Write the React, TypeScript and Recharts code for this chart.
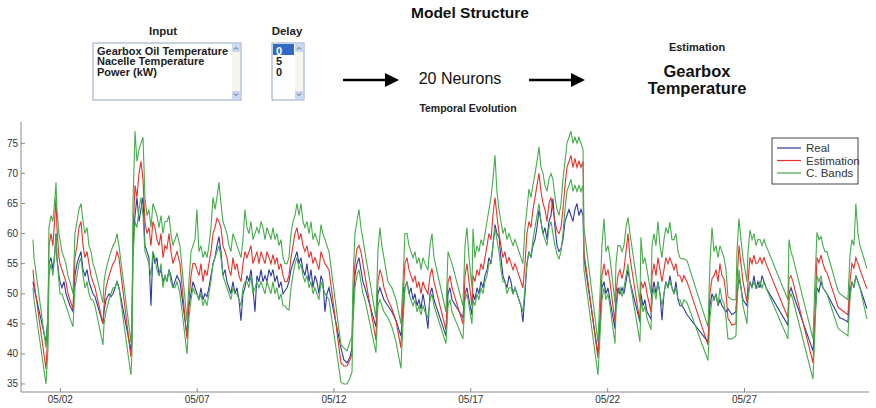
import { Line, LineChart, XAxis, YAxis } from 'recharts'

// hours since 05/01 00:00, one row per daytime stretch (the straight drops are overnight gaps)
const hours = [
  0, 0.9, 11.4,
  13.2, 14.0, 15.8, 17.5, 19.3, 20.2, 21.0, 22.8, 23.7, 25.4, 27.2, 28.9, 30.7, 32.4, 35.1,
  36.8, 38.6, 40.3, 42.1, 43.9, 45.6, 47.4, 49.1, 50.9, 52.6, 54.4, 61.4,
  62.3, 64.0, 66.7, 68.4, 70.2, 71.9, 73.7, 75.4, 85.9,
  86.8, 87.7, 89.5, 91.2, 93.0, 94.7, 96.5, 98.2, 100.0, 101.7, 103.5, 105.2, 107.0, 108.7, 110.5, 112.3, 114.0, 115.8, 117.5, 119.3, 121.0, 122.8, 124.5, 126.3, 128.9, 135.1,
  136.8, 138.6, 140.3, 142.1, 143.8, 145.6, 147.3, 149.1, 150.8, 152.6, 154.3, 156.1, 157.9, 159.6, 161.4, 163.1, 164.9, 166.6, 168.4, 170.1, 171.9, 173.6, 175.4, 177.2, 178.9, 180.7, 182.4, 184.2, 185.9, 187.7, 189.4, 191.2, 192.9, 194.7, 196.4, 198.2, 200.0, 201.7, 203.5, 205.2, 207.0, 208.7, 210.5, 212.2, 214.0, 215.7, 217.5, 219.3, 221.0, 222.8, 224.5,
  226.3, 228.0, 229.8, 231.5, 233.3, 235.0, 236.8, 238.5, 240.3, 242.1, 243.8, 245.6, 247.3, 249.1, 250.8, 252.6, 254.3, 256.1, 257.8, 259.6, 270.1, 272.7, 275.4, 278.0, 279.8,
  280.6, 282.4, 284.1, 285.9, 287.6, 289.4, 291.1, 300.8,
  302.5, 304.3, 306.0, 307.8, 311.3, 314.8, 318.4, 322.7,
  324.5, 326.2, 328.0, 329.8, 331.5, 333.3, 335.0, 336.8, 338.5, 340.3, 342.0, 343.8, 346.4, 348.2, 349.9, 351.7, 362.2,
  364.0, 365.7, 367.5, 377.1,
  378.9, 380.6, 382.4, 385.0,
  385.9, 387.6, 389.4, 391.1, 392.9, 394.7, 396.4, 398.2, 399.9, 401.7, 403.4, 405.2, 406.9, 408.7, 410.4, 412.2, 413.9, 415.7, 417.5, 419.2, 421.0, 422.7, 424.5, 426.2, 428.0, 429.7, 431.5,
  433.2, 435.0, 436.7, 438.5, 440.3, 442.0, 443.8, 445.5, 447.3, 449.0, 450.8, 452.5, 454.3, 456.0, 457.8, 459.6, 461.3, 463.1, 464.8, 466.6, 468.3, 470.1, 471.8, 473.6, 475.3, 477.1, 478.8, 480.6, 482.4, 483.2, 495.5,
  497.3, 499.0, 500.8, 502.5, 504.3, 506.0, 510.4,
  511.3, 513.0, 514.8, 516.6, 518.3, 520.1, 521.8, 523.6, 532.3,
  533.2, 535.0, 536.7, 538.5, 542.0,
  542.9, 544.6, 546.4, 548.1, 549.9, 551.6, 553.4, 555.1, 556.9, 558.6, 560.4, 562.2, 563.9, 565.7, 567.4, 569.2, 570.9, 573.6, 592.0,
  593.7, 595.5, 597.3, 599.0, 600.8, 602.5, 604.3, 606.0, 607.8, 609.5, 613.0, 616.5,
  617.4, 619.2, 620.9, 622.7, 626.2,
  627.1, 628.8, 630.6, 632.3, 634.1, 635.8, 637.6, 639.4, 641.1, 642.9, 662.1,
  663.0, 664.8, 666.5, 684.1,
  685.8, 687.6, 689.3, 691.1, 692.8, 694.6, 696.3, 706.0,
  707.7, 711.2, 714.7,
  716.5, 718.2, 720.0, 721.7, 723.5, 725.3, 731.4,
]

const real = [
  52, 51, 42,
  46, 55, 56, 54, 57, 60, 56, 53, 52, 51, 52, 50, 49, 48, 47,
  53, 55, 56, 57, 54, 53, 54, 52, 51, 50, 49.5, 45,
  47, 49, 50, 49.5, 50, 51, 52, 51, 40.5,
  44, 58, 63, 66, 62, 64, 66, 58, 57, 56, 48, 57, 55, 56, 53, 54, 52, 53, 52, 54, 53, 51, 52, 53, 52, 43,
  48, 50, 52, 51, 50, 49, 51, 49, 50, 49.5, 51, 53, 55, 56, 58, 59.5, 57, 53, 54, 52, 51, 50, 52, 50, 51, 49, 45.5, 50, 51, 53, 52, 54, 51, 47, 53, 52, 54, 52, 53, 52, 54, 53, 54, 52, 53, 51, 52, 50, 50.5, 51, 52,
  54, 55, 56, 57, 55, 56, 54, 53, 55, 52, 54, 51, 53, 52, 50, 53, 52, 47, 50, 51, 41, 39, 38.5, 39.5, 41,
  48, 53, 55, 56, 54, 52, 51, 44.5,
  50, 51, 50, 49, 48, 47, 45.5, 43,
  47, 51, 52, 50, 51, 49, 50, 48, 49, 47.5, 50, 48, 44.2, 50, 51, 49, 43,
  50, 51, 49, 46,
  50, 51, 49, 46.5,
  50, 49, 51, 50, 52, 51, 53, 54, 56, 55, 58, 61.5, 60, 59.5, 56, 53, 52, 51, 53, 52, 50, 51, 50, 49, 48, 45.3, 50,
  55, 57, 56, 58, 59, 61, 63.9, 62, 60, 61, 59, 62, 63, 65.8, 61, 58, 57, 57.5, 59, 62, 63, 64, 63, 62, 64, 65, 63, 64, 63, 56, 40,
  45, 51, 52, 50, 51, 49, 44.2,
  48, 51, 50, 51, 50, 52, 54, 52, 45.3,
  50, 48, 49, 47, 45.8,
  50, 52, 50, 52, 50, 45.6, 50, 52, 51, 53, 51, 50, 52, 49, 48, 48, 47.5, 46.5, 42,
  48, 50, 49, 50, 48, 49, 48, 47.5, 47, 47.5, 46.5, 47,
  50, 52.5, 51, 49, 48,
  50, 52, 51, 53, 50.8, 52, 51, 53, 52, 51, 44.8,
  50, 51, 50, 40.5,
  46, 51, 50.3, 52, 51, 50.5, 50, 46.5,
  46, 45.7, 45.3,
  50, 52, 51, 53, 52, 51, 47.5,
]

const estimation = [
  54, 52, 37.5,
  44, 58, 60, 58, 63, 66, 61, 56, 55, 54, 53, 52, 50, 49, 47.5,
  56, 58, 61, 62, 58, 56, 57, 55, 53, 52, 51, 45,
  48, 51, 53, 54, 55, 55.5, 57, 56, 39.5,
  42, 60, 68, 66, 70, 72, 69, 62, 60, 61, 58, 62, 61, 59, 58, 60, 56, 58, 57.5, 60, 57, 55, 56, 57, 55, 42.5,
  49, 53, 55, 55, 54, 53, 55, 52, 54, 53, 55, 57, 60, 61, 62.5, 62, 61, 58, 57, 56, 54, 53, 56, 54, 55, 53, 52, 55, 57, 56, 57, 58, 55, 56, 57, 55, 57, 56, 55, 57, 56, 55, 56.5, 55, 56, 54, 55, 53, 52, 52, 53,
  56, 58, 60, 61, 59, 60, 58, 57, 58, 56, 57, 55, 56, 55, 54, 57, 56, 55, 54.5, 54, 38.5, 38, 38, 39, 40,
  48, 55, 57.5, 58, 57, 55, 53, 42.3,
  52, 54, 53, 51, 49, 47.5, 45.5, 41,
  49, 55, 56, 54, 53, 52, 53, 51, 52, 50, 52, 51, 50, 53, 54.2, 52, 44,
  52, 53, 51, 45,
  53, 55, 52, 48,
  53, 52, 54, 53, 55, 54, 56, 58, 60, 59, 63, 66, 63, 60, 58, 56, 57, 55, 56, 55, 54, 55, 54, 53, 52, 51, 55,
  60, 62, 61, 64, 66, 68, 70, 67, 65, 64, 62, 65, 66, 64, 62, 60.5, 60, 61, 64, 68, 71, 72, 73, 71, 72.5, 71, 72, 71, 72, 57, 39.3,
  46, 53, 55, 53, 54, 52, 45.3,
  50, 53, 54, 52.5, 54, 57, 60, 56, 45.3,
  52, 51, 52, 50, 47,
  53, 55, 53, 56, 54, 52, 54, 56, 55, 56, 55, 54, 55, 53, 53, 52, 53, 52, 41.5,
  50, 52.5, 53, 54, 52, 55, 53, 52.5, 50, 45.9, 44.8, 45,
  52, 58, 55, 52, 48.6,
  52, 56, 55, 56.4, 55, 55.2, 56, 55, 56, 55, 46,
  52.5, 53, 52, 38.5,
  47, 56, 55.2, 56.4, 55, 54, 53.5, 47.8,
  47.5, 47, 46.5,
  52, 55, 54.2, 56, 55, 54, 50.8,
]

const bandUpper = [
  59, 56, 41,
  47, 61, 63, 62, 66, 68.5, 64, 60, 59, 57, 56, 55, 53, 52, 50,
  60, 62, 64, 65, 62, 60, 61, 58, 57, 55, 54, 48.5,
  52, 54, 56, 57, 58, 58.5, 60, 58, 42,
  45, 65, 77, 72, 74, 75, 76, 66, 63, 64, 61, 65, 64, 63, 61, 63, 60, 62, 62, 63, 60, 58, 59, 60, 58, 45.5,
  52, 57, 58, 59, 64, 57, 58, 56, 57, 56, 58, 61, 66, 64, 66, 68.5, 65, 62, 61, 60, 58, 57, 60, 59, 58, 57, 56, 59, 64, 61, 60, 62, 59, 60, 61, 60, 62, 61, 59, 61, 60, 59, 61, 59, 60, 58, 59, 56, 55, 55, 56,
  60, 62, 63, 65, 63, 65, 62, 61, 62, 60, 62, 59, 60, 59, 58, 61.5, 60, 59, 58, 57, 41.5, 41, 40.5, 42, 43,
  52, 60, 62, 64, 61, 59, 57, 46,
  57, 61, 58, 56, 52, 51, 49, 45,
  52, 60, 60, 58, 57, 56, 57, 55, 56, 54, 56, 55, 54, 58, 60, 56, 47,
  57, 56, 55, 48,
  58, 61, 56, 51,
  60.8, 56, 58, 57, 59, 58, 60, 62, 64, 66, 69, 73, 67, 64, 62, 60, 61, 59, 60, 59, 58, 59, 58, 57, 56, 55, 61,
  64, 67.4, 66, 68, 70, 72, 74.4, 71, 70, 68, 67, 69, 70, 69, 66, 64, 63, 65, 69, 72, 75, 76, 77, 75, 76, 75, 76, 75, 74, 61, 42,
  50, 58, 62.5, 57, 58, 56, 48.5,
  55, 58, 58, 57, 58, 61, 62.7, 60, 48.5,
  59.4, 55, 56, 54, 50,
  58, 60, 58, 62, 58, 56, 59, 61, 60, 61.9, 59, 59, 60, 57, 56, 55.8, 55.8, 55.5, 44.5,
  55, 61, 57, 58, 56, 58, 57, 56, 54, 49.5, 49, 49,
  57, 62.5, 59, 56, 52,
  57, 60.6, 59, 60, 58, 59, 59, 58, 59, 58, 49,
  59, 57, 56, 42.5,
  52, 60.2, 59, 59.5, 58, 57, 57, 50.5,
  50, 49.5, 49,
  56.4, 59, 58, 65, 60, 58, 54.2,
]

const bandLower = [
  51, 49, 35,
  41, 53, 55, 53, 57, 60, 56, 52, 50, 50, 49, 48, 47, 46, 44.5,
  51, 53, 55, 56, 53, 51, 52, 50, 49, 49, 48, 41.5,
  45, 47, 49, 50, 51, 51, 52, 51, 36.5,
  40, 56, 62, 61, 64, 66, 63, 57, 56, 55, 53, 57, 56, 54, 53, 55, 51, 53, 52, 54, 52, 51, 51, 52, 50, 40,
  46, 49, 51, 50, 50, 49, 50, 48, 49, 48, 50, 52, 55, 56, 57, 58, 56, 53, 52, 51, 50, 49, 51, 50, 50, 49, 48, 51, 52, 52, 51, 53, 50, 51, 52, 51, 52, 51, 50, 52, 51, 50, 52, 50, 51, 49, 50, 48, 48, 47.5, 47.3,
  51, 53, 55, 56, 54, 55, 53, 52, 53, 51, 52, 50, 51, 50, 49, 52, 51, 50, 49.5, 49, 35.3, 35, 35, 36, 37,
  45, 51, 53, 54, 52, 50, 49, 40.2,
  48, 49, 48, 47, 46, 44.5, 42, 37.6,
  45, 51, 52, 50, 49, 48, 49, 47, 48, 46.5, 48, 47, 46, 49, 50, 48, 41.7,
  48, 49, 47, 42.5,
  49, 50, 48, 45,
  49, 48, 50, 49, 51, 50, 52, 53, 55, 55, 58, 61, 59, 57, 54, 52, 52, 50, 51, 51, 50, 51, 50, 49, 48, 47, 51,
  55, 57, 56, 59, 61, 63, 65, 62, 60, 59, 58, 61, 62, 60, 58, 56.5, 55.8, 57, 60, 64, 67, 68, 69, 67, 68, 67, 68, 67, 68, 54, 36.5,
  43, 49, 51, 49, 50, 48, 41.7,
  47, 50, 51, 49.5, 51, 53, 55, 52, 42,
  49, 47, 48, 46, 44,
  49, 51, 49, 52, 50, 48, 50, 52, 51, 52, 51, 50, 51, 49, 49, 48, 49, 48.5, 38.9,
  46, 49, 49, 50, 48, 51, 49, 48.5, 46, 42.5, 42.5, 43,
  48, 54, 51, 48, 45,
  49, 52, 51, 52, 51, 51, 52, 51, 52, 51, 42.5,
  49, 50, 49, 35.8,
  44, 53, 52, 53, 51, 50.5, 50, 44.3,
  44, 43.5, 43,
  49, 52, 51, 53, 52, 51, 45.8,
]

const dayTicks = [24, 144, 264, 384, 504, 624]
const tempTicks = [35, 40, 45, 50, 55, 60, 65, 70, 75]
const inputNames = ['Gearbox Oil Temperature', 'Nacelle Temperature', 'Power (kW)']
const delays = ['0', '5', '0']

const BLUE = '#2f3a9f'
const RED = '#e8322b'
const GREEN = '#45ad4a'
const FRAME = '#8a8a8a'
const FONT = '"Liberation Sans", Arial, sans-serif'

const data = hours.map((h, i) => ({
  h,
  real: real[i],
  est: estimation[i],
  up: bandUpper[i],
  lo: bandLower[i],
}))

const fmtDay = (h: number) => `05/${String(1 + Math.round(h / 24)).padStart(2, '0')}`

function BottomTick({ x, y, payload }: any) {
  return (
    <g>
      <line x1={x} y1={y} x2={x} y2={y - 4} stroke={FRAME} />
      <text x={x} y={y + 11} textAnchor="middle" fontSize={10} fill="#333" fontFamily={FONT}>
        {fmtDay(payload.value)}
      </text>
    </g>
  )
}

function TopTick({ x, y }: any) {
  return <line x1={x} y1={y} x2={x} y2={y + 4} stroke={FRAME} />
}

function LeftTick({ x, y, payload }: any) {
  return (
    <g>
      <line x1={x} y1={y} x2={x + 4} y2={y} stroke={FRAME} />
      <text x={x - 3} y={y + 3.5} textAnchor="end" fontSize={10} fill="#333" fontFamily={FONT}>
        {payload.value}
      </text>
    </g>
  )
}

function RightTick({ x, y }: any) {
  return <line x1={x} y1={y} x2={x - 4} y2={y} stroke={FRAME} />
}

function ListBox({ x, w, items, selected }: { x: number; w: number; items: string[]; selected?: number }) {
  const top = 43
  const h = 57
  const sbx = x + w - 9
  return (
    <g>
      <rect x={x} y={top} width={w} height={h} fill="#fff" stroke="#8fa6c4" />
      <rect x={sbx} y={top + 1} width={8} height={h - 2} fill="#f5f4ee" />
      <rect x={sbx} y={top + 1} width={8} height={8} fill="#c9d8f4" />
      <rect x={sbx} y={top + h - 9} width={8} height={8} fill="#c9d8f4" />
      <path d={`M${sbx + 2} ${top + 6.5} l2 -2 l2 2`} stroke="#4d6185" fill="none" />
      <path d={`M${sbx + 2} ${top + h - 6.5} l2 2 l2 -2`} stroke="#4d6185" fill="none" />
      {selected !== undefined && (
        <rect x={x + 1} y={top + 1 + selected * 10.7} width={w - 11} height={11} fill="#316ac5" />
      )}
      {items.map((t, i) => (
        <text
          key={i}
          x={x + 4}
          y={top + 11.5 + i * 10.7}
          fontSize={11}
          fontWeight="bold"
          fill={i === selected ? '#fff' : '#1c1c1c'}
          fontFamily={FONT}
        >
          {t}
        </text>
      ))}
    </g>
  )
}

function Arrow({ x1, x2 }: { x1: number; x2: number }) {
  return (
    <g>
      <line x1={x1} y1={80} x2={x2 - 12} y2={80} stroke="#000" strokeWidth={2.5} />
      <polygon points={`${x2 - 14},73 ${x2},80 ${x2 - 14},87`} fill="#000" />
    </g>
  )
}

export default function App() {
  return (
    <div style={{ position: 'absolute', left: 0, top: 0, width: 876, height: 408, background: '#fff' }}>
      <LineChart width={876} height={408} data={data} margin={{ top: 122, right: 7, bottom: 0, left: 0 }}>
        <XAxis
          dataKey="h"
          type="number"
          domain={[-10.5, 733.2]}
          allowDataOverflow
          ticks={dayTicks}
          interval={0}
          height={16}
          tickSize={0}
          tickMargin={0}
          tickLine={false}
          axisLine={{ stroke: FRAME }}
          tick={<BottomTick />}
        />
        <XAxis
          xAxisId="top"
          orientation="top"
          dataKey="h"
          type="number"
          domain={[-10.5, 733.2]}
          allowDataOverflow
          ticks={dayTicks}
          interval={0}
          height={0}
          tickSize={0}
          tickMargin={0}
          tickLine={false}
          axisLine={{ stroke: FRAME }}
          tick={<TopTick />}
        />
        <YAxis
          type="number"
          domain={[33.67, 78.54]}
          allowDataOverflow
          ticks={tempTicks}
          interval={0}
          width={21}
          tickSize={0}
          tickMargin={0}
          tickLine={false}
          axisLine={{ stroke: FRAME }}
          tick={<LeftTick />}
        />
        <YAxis
          yAxisId="right"
          orientation="right"
          type="number"
          domain={[33.67, 78.54]}
          allowDataOverflow
          ticks={tempTicks}
          interval={0}
          width={0}
          tickSize={0}
          tickMargin={0}
          tickLine={false}
          axisLine={{ stroke: FRAME }}
          tick={<RightTick />}
        />
        <Line dataKey="real" stroke={BLUE} strokeWidth={1.1} dot={false} isAnimationActive={false} />
        <Line dataKey="est" stroke={RED} strokeWidth={1.1} dot={false} isAnimationActive={false} />
        <Line dataKey="up" stroke={GREEN} strokeWidth={1.1} dot={false} isAnimationActive={false} />
        <Line dataKey="lo" stroke={GREEN} strokeWidth={1.1} dot={false} isAnimationActive={false} />
      </LineChart>

      <svg
        width={876}
        height={408}
        style={{ position: 'absolute', left: 0, top: 0, pointerEvents: 'none' }}
        fontFamily={FONT}
      >
        <text x={470} y={18} textAnchor="middle" fontSize={15.5} fontWeight="bold" fill="#111">
          Model Structure
        </text>
        <text x={163} y={35} textAnchor="middle" fontSize={11.5} fontWeight="bold" fill="#222">
          Input
        </text>
        <text x={287} y={35} textAnchor="middle" fontSize={11.5} fontWeight="bold" fill="#222">
          Delay
        </text>
        <ListBox x={93} w={148} items={inputNames} />
        <ListBox x={272} w={32} items={delays} selected={0} />
        <Arrow x1={343} x2={399} />
        <text x={460} y={84} textAnchor="middle" fontSize={16} fill="#111">
          20 Neurons
        </text>
        <Arrow x1={529} x2={585} />
        <text x={697} y={51} textAnchor="middle" fontSize={11} fontWeight="bold" fill="#222">
          Estimation
        </text>
        <text x={697} y={77} textAnchor="middle" fontSize={16.5} fontWeight="bold" fill="#111">
          Gearbox
        </text>
        <text x={697} y={94} textAnchor="middle" fontSize={16.5} fontWeight="bold" fill="#111">
          Temperature
        </text>
        <text x={468} y={112} textAnchor="middle" fontSize={10.5} fontWeight="bold" fill="#222">
          Temporal Evolution
        </text>

        <g>
          <rect x={772} y={138} width={86} height={46} fill="#fff" stroke="#444" />
          {[
            { label: 'Real', color: BLUE },
            { label: 'Estimation', color: RED },
            { label: 'C. Bands', color: GREEN },
          ].map((item, i) => (
            <g key={item.label}>
              <line x1={777} x2={801} y1={148 + i * 12.5} y2={148 + i * 12.5} stroke={item.color} strokeWidth={1.2} />
              <text x={806} y={152 + i * 12.5} fontSize={11.5} fill="#333">
                {item.label}
              </text>
            </g>
          ))}
        </g>
      </svg>
    </div>
  )
}
